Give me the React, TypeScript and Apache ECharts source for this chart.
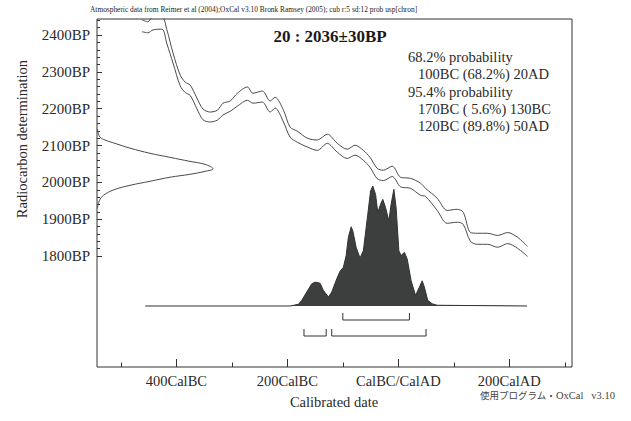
import React, { useEffect, useRef } from "react";
import * as echarts from "echarts";

const SERIF = '"Liberation Serif", "DejaVu Serif", "Times New Roman", serif';

// Calibration curve (IntCal04 envelope)
const calYears = [-462,-451,-442,-426,-417,-406,-393,-384,-375,-363,-352,-339,-326,-316,-303,-290,-272,-262,-245,-231,-222,-207,-195,-182,-164,-146,-128,-110,-92,-78,-63,-51,-38,-27,-11,4,22,40,49,70,88,106,117,130,143,161,179,197,215,233];
const calUpper = [2441,2436,2450,2450,2414,2351,2291,2272,2264,2229,2199,2191,2196,2215,2221,2242,2259,2242,2248,2221,2231,2196,2150,2139,2120,2115,2131,2106,2090,2101,2087,2068,2038,2033,2044,2014,2011,1998,1984,1957,1924,1927,1919,1864,1862,1862,1856,1864,1851,1826];
const calLower = [2409,2406,2414,2416,2376,2324,2262,2244,2236,2200,2170,2164,2169,2183,2193,2207,2223,2215,2218,2191,2202,2164,2123,2109,2096,2087,2106,2082,2065,2074,2060,2041,2010,2005,2016,1988,1984,1965,1962,1924,1889,1892,1886,1840,1832,1832,1824,1834,1821,1799];

// Calibrated probability distribution (relative)
const probYears = [-456,-195,-180,-174,-165,-156,-150,-141,-135,-126,-120,-111,-105,-99,-94,-90,-85,-82,-76,-69,-63,-55,-50,-46,-41,-37,-32,-28,-23,-17,-13,-8,-4,1,5,11,16,23,31,38,43,47,53,61,70,232];
const probValues = [0,0,0.014,0.047,0.116,0.185,0.199,0.19,0.13,0.075,0.116,0.226,0.29,0.323,0.42,0.572,0.66,0.627,0.489,0.4,0.461,0.765,0.958,1.0,0.93,0.779,0.848,0.889,0.82,0.71,0.848,0.972,0.82,0.461,0.42,0.447,0.392,0.213,0.089,0.157,0.21,0.157,0.047,0.019,0.006,0];

// Radiocarbon measurement 2036±30BP (relative density)
const dateBP = [2145,2136,2123,2115,2106,2093,2079,2068,2057,2049,2037,2030,2022,2014,2003,1992,1981,1968,1954,1938,1930];
const dateDensity = [0.003,0.009,0.026,0.069,0.155,0.284,0.457,0.629,0.802,0.931,1.0,0.931,0.802,0.629,0.457,0.284,0.155,0.069,0.026,0.009,0.003];

// Ranges
const range68 = [[-100, 20]];
const range95 = [[-170, -130], [-120, 50]];

// Axis ticks
const xMajorTicks = [-400, -200, 0, 200];
const xMinorTicks = [-500, -300, -100, 100, 300];
const yMajorTicks = [1800, 1900, 2000, 2100, 2200, 2300, 2400];
const yMinorTicks = [1820,1840,1860,1880,1920,1940,1960,1980,2020,2040,2060,2080,2120,2140,2160,2180,2220,2240,2260,2280,2320,2340,2360,2380,2420,2440];

const headerText = "Atmospheric data from Reimer et al (2004);OxCal v3.10 Bronk Ramsey (2005); cub r:5 sd:12 prob usp[chron]";
const titleText = "20 : 2036\u00b130BP";
const probLines = [
  { text: "68.2% probability", indent: false },
  { text: "100BC (68.2%) 20AD", indent: true },
  { text: "95.4% probability", indent: false },
  { text: "170BC ( 5.6%) 130BC", indent: true },
  { text: "120BC (89.8%) 50AD", indent: true },
];

const INK = "#2a2a2a";
const LINE = "#4a4a4a";

function xLabel(v: number): string {
  if (v < 0) return `${-v}CalBC`;
  if (v === 0) return "CalBC/CalAD";
  return `${v}CalAD`;
}

export default function App() {
  const ref = useRef<HTMLDivElement>(null);
  useEffect(() => {
    document.body.style.margin = "0";
    if (!ref.current) return;
    const chart = echarts.init(ref.current, null, { renderer: "svg" });

    const X_MIN = -543, X_MAX = 313;
    const Y_MIN = 1499, Y_MAX = 2443.5;

    const bracketData = [
      ...range68.map((r) => [r[0], r[1], 0]),
      ...range95.map((r) => [r[0], r[1], 1]),
    ];

    const baseX = {
      type: "value",
      min: X_MIN,
      max: X_MAX,
      gridIndex: 0,
      axisLine: { show: false, onZero: false },
      splitLine: { show: false },
    };
    const baseY = {
      type: "value",
      min: Y_MIN,
      max: Y_MAX,
      gridIndex: 0,
      axisLine: { show: false, onZero: false },
      splitLine: { show: false },
    };

    const option: any = {
      animation: false,
      backgroundColor: "#ffffff",
      grid: {
        left: 97,
        top: 19,
        width: 475,
        height: 348,
        show: true,
        borderColor: "#333",
        borderWidth: 1,
        backgroundColor: "transparent",
      },
      xAxis: [
        {
          ...baseX,
          position: "bottom",
          axisTick: { show: true, inside: true, length: 8, customValues: xMajorTicks, lineStyle: { color: "#333" } },
          axisLabel: {
            show: true,
            customValues: xMajorTicks,
            formatter: (v: number) => xLabel(v),
            fontFamily: SERIF,
            fontSize: 14.5,
            color: INK,
            margin: 6,
          },
        },
        {
          ...baseX,
          position: "bottom",
          axisTick: { show: true, inside: true, length: 4.5, customValues: xMinorTicks, lineStyle: { color: "#333" } },
          axisLabel: { show: false },
        },
        { type: "value", min: 0, max: 475 / 116, show: false, gridIndex: 0, axisLine: { show: false, onZero: false } },
      ],
      yAxis: [
        {
          ...baseY,
          position: "left",
          axisTick: { show: true, inside: true, length: 5, customValues: yMajorTicks, lineStyle: { color: "#333" } },
          axisLabel: {
            show: true,
            customValues: yMajorTicks,
            formatter: (v: number) => `${v}BP`,
            fontFamily: SERIF,
            fontSize: 15,
            color: INK,
            margin: 7,
          },
        },
        {
          ...baseY,
          position: "left",
          axisTick: { show: true, inside: true, length: 3, customValues: yMinorTicks, lineStyle: { color: "#333" } },
          axisLabel: { show: false },
        },
        { type: "value", min: -0.5084, max: 2.392, show: false, gridIndex: 0, axisLine: { show: false, onZero: false } },
      ],
      series: [
        {
          type: "line",
          xAxisIndex: 0,
          yAxisIndex: 0,
          data: calYears.map((y, i) => [y, calUpper[i]]),
          symbol: "none",
          smooth: 0.3,
          lineStyle: { color: LINE, width: 1 },
          clip: true,
        },
        {
          type: "line",
          xAxisIndex: 0,
          yAxisIndex: 0,
          data: calYears.map((y, i) => [y, calLower[i]]),
          symbol: "none",
          smooth: 0.3,
          lineStyle: { color: LINE, width: 1 },
          clip: true,
        },
        {
          type: "line",
          xAxisIndex: 2,
          yAxisIndex: 0,
          data: dateBP.map((b, i) => [dateDensity[i], b]),
          symbol: "none",
          smooth: 0.4,
          lineStyle: { color: LINE, width: 1 },
        },
        {
          type: "line",
          xAxisIndex: 0,
          yAxisIndex: 2,
          data: probYears.map((y, i) => [y, probValues[i]]),
          symbol: "none",
          lineStyle: { color: "#333", width: 1 },
          areaStyle: { color: "#3d3f3f", opacity: 1 },
        },
        {
          type: "custom",
          xAxisIndex: 0,
          yAxisIndex: 2,
          data: bracketData,
          renderItem: (params: any, api: any) => {
            const a = api.coord([api.value(0), 0]);
            const b = api.coord([api.value(1), 0]);
            const lvl = api.value(2);
            const y = a[1] + (lvl === 0 ? 14 : 30);
            return {
              type: "polyline",
              shape: { points: [[a[0], y - 7], [a[0], y], [b[0], y], [b[0], y - 7]] },
              style: { stroke: "#333", lineWidth: 1, fill: null },
            };
          },
        },
      ],
      graphic: [
        {
          type: "text",
          x: 90,
          y: 9,
          style: { text: headerText, fontFamily: SERIF, fontSize: 7.4, fill: "#222", verticalAlign: "middle", align: "left" },
        },
        {
          type: "text",
          x: 330,
          y: 36,
          style: { text: titleText, fontFamily: SERIF, fontSize: 17, fontWeight: "bold", fill: "#1a1a1a", verticalAlign: "middle", align: "center" },
        },
        ...probLines.map((l, i) => ({
          type: "text",
          x: l.indent ? 418 : 408,
          y: 57 + i * 17.3,
          style: { text: l.text, fontFamily: SERIF, fontSize: 14.5, fill: INK, verticalAlign: "middle", align: "left" },
        })),
        {
          type: "text",
          x: 22,
          y: 139,
          rotation: Math.PI / 2,
          style: { text: "Radiocarbon determination", fontFamily: SERIF, fontSize: 14.5, fill: INK, verticalAlign: "middle", align: "center" },
        },
        {
          type: "text",
          x: 334,
          y: 402,
          style: { text: "Calibrated date", fontFamily: SERIF, fontSize: 14.5, fill: INK, verticalAlign: "middle", align: "center" },
        },
        {
          type: "text",
          x: 480,
          y: 395,
          style: {
            text: "{a|使用プログラム・}{b|OxCal   v3.10}",
            verticalAlign: "middle",
            align: "left",
            rich: {
              a: { fontFamily: '"Noto Sans CJK JP", sans-serif', fontSize: 9.5, fill: "#444" },
              b: { fontFamily: SERIF, fontSize: 10.5, fill: "#444" },
            },
          },
        },
      ],
    };

    chart.setOption(option);
    return () => chart.dispose();
  }, []);

  return (
    <div
      ref={ref}
      style={{ position: "fixed", left: 0, top: 0, width: 631, height: 421, background: "#fff" }}
    />
  );
}
